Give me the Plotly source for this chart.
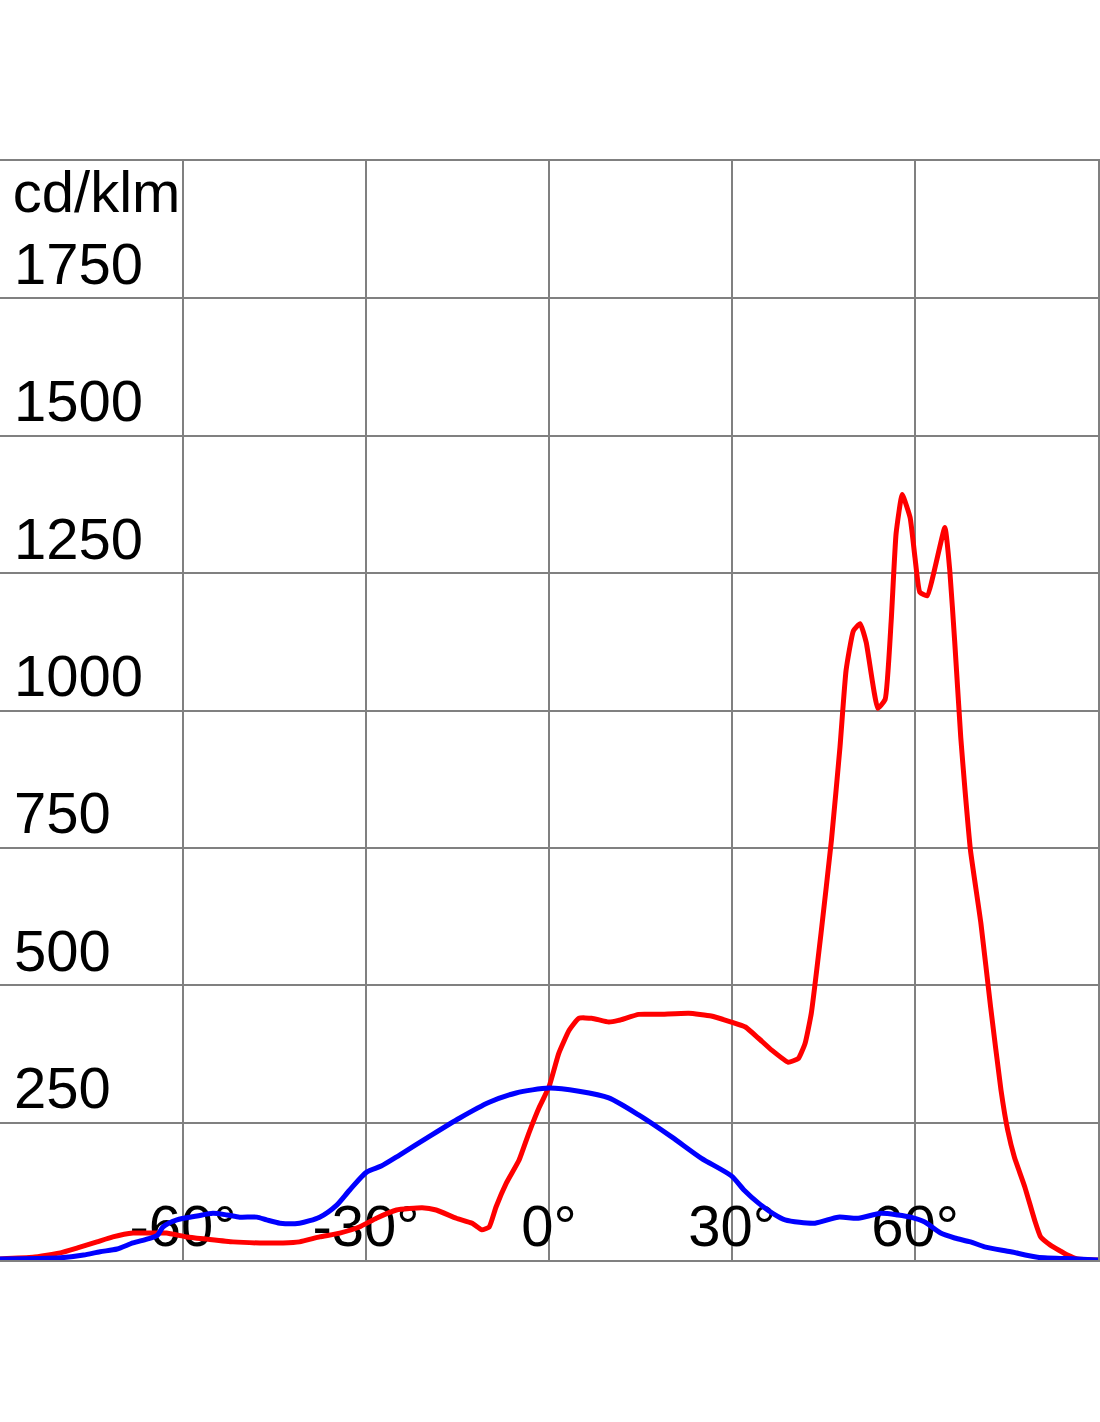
import plotly.graph_objects as go

# C0-C180 plane (red)
red_angle = [-90.0, -84.6, -80.1, -77.3, -74.1, -71.5, -68.2, -65.4, -62.7, -59.4, -56.1, -51.8, -47.4,
             -43.6, -40.9, -37.6, -34.3, -31.1, -28.3, -25.0, -20.8, -18.5, -15.2, -12.6, -11.0, -9.8,
             -8.7, -7.0, -4.9, -3.3, -1.6, 0.0, 1.6, 3.3, 4.9, 7.0, 9.8, 11.4, 14.7, 18.0, 22.9, 26.6,
             29.9, 32.2, 34.3, 36.5, 39.2, 40.9, 42.0, 43.0, 44.6, 46.3, 47.7, 48.7, 49.9, 51.0, 52.0,
             53.9, 55.1, 56.1, 56.9, 57.9, 59.2, 60.0, 60.8, 62.0, 64.9, 65.7, 66.5, 67.5, 68.2, 69.1,
             70.8, 72.4, 74.1, 75.2, 76.3, 78.0, 79.6, 80.6, 82.2, 85.0, 86.6, 90.0]
red_value = [2, 5, 13, 22, 33, 42, 49, 49, 49, 42, 38, 33, 31,
             31, 33, 42, 49, 60, 76, 91, 95, 91, 76, 67, 55, 60,
             96, 140, 182, 231, 278, 315, 376, 418, 440, 440, 433, 436, 447, 447, 449, 444,
             433, 424, 404, 382, 360, 367, 395, 449, 595, 764, 933, 1073, 1145, 1158, 1124,
             1004, 1020, 1164, 1322, 1393, 1351, 1278, 1215, 1209, 1333, 1255, 1127, 951, 855, 745,
             613, 460, 309, 236, 187, 133, 73, 42, 27, 9, 2, 0]

# C90-C270 plane (blue)
blue_angle = [-90.0, -80.1, -76.3, -73.6, -70.8, -68.2, -65.9, -64.2, -63.3, -61.0, -57.7, -55.1, -52.8,
              -50.7, -47.9, -46.3, -44.1, -40.9, -37.6, -34.8, -32.7, -29.9, -27.5, -24.5, -19.6, -14.7,
              -9.8, -5.4, 0.0, 4.9, 9.8, 14.7, 20.1, 25.0, 29.9, 32.0, 34.3, 36.8, 38.7, 43.6, 47.4,
              50.7, 54.4, 57.2, 59.3, 61.6, 64.2, 66.5, 69.1, 71.4, 75.7, 80.1, 86.6, 90.0]
blue_value = [2, 4, 9, 15, 20, 31, 38, 45, 60, 73, 80, 85, 82,
              78, 78, 73, 67, 67, 78, 100, 127, 160, 171, 191, 225, 258,
              287, 304, 313, 307, 295, 264, 224, 185, 153, 127, 104, 84, 73, 67, 78,
              76, 85, 82, 78, 69, 49, 40, 33, 24, 15, 5, 2, 0]

x_tick_vals = [-60, -30, 0, 30, 60]
x_tick_text = ["-60°", "-30°", "0°", "30°", "60°"]
y_tick_vals = [250, 500, 750, 1000, 1250, 1500, 1750]
y_tick_text = ["250", "500", "750", "1000", "1250", "1500", "1750"]
unit_label = "cd/klm"

FONT = "Liberation Sans, Arial, sans-serif"
GRID = "#808080"
TXT = dict(family=FONT, size=58, color="black")

fig = go.Figure()

# tick labels drawn as text traces (beneath the curves)
fig.add_trace(go.Scatter(
    x=x_tick_vals, y=[0] * len(x_tick_vals), text=x_tick_text, mode="text",
    textposition="top center", textfont=TXT,
    hoverinfo="skip", showlegend=False, cliponaxis=False))
fig.add_trace(go.Scatter(
    x=[-87.7] * len(y_tick_vals), y=y_tick_vals, text=y_tick_text, mode="text",
    textposition="top right", textfont=TXT,
    hoverinfo="skip", showlegend=False, cliponaxis=False))
fig.add_trace(go.Scatter(
    x=[-87.9], y=[y_tick_vals[-1] + 131], text=[unit_label], mode="text",
    textposition="top right", textfont=TXT,
    hoverinfo="skip", showlegend=False, cliponaxis=False))

fig.add_trace(go.Scatter(x=red_angle, y=red_value, mode="lines",
                         line=dict(color="#ff0000", width=5, shape="spline", smoothing=0.4),
                         showlegend=False))
fig.add_trace(go.Scatter(x=blue_angle, y=blue_value, mode="lines",
                         line=dict(color="#0000ff", width=5, shape="spline", smoothing=0.7),
                         showlegend=False))

fig.update_xaxes(range=[-90, 90], tickvals=x_tick_vals, showticklabels=False, ticks="",
                 showgrid=True, gridcolor=GRID, gridwidth=2, zeroline=False,
                 showline=True, linecolor=GRID, linewidth=2, mirror=True)
fig.update_yaxes(range=[0, 2000], tickvals=y_tick_vals, showticklabels=False, ticks="",
                 showgrid=True, gridcolor=GRID, gridwidth=2, zeroline=False,
                 showline=True, linecolor=GRID, linewidth=2, mirror=True)

fig.update_layout(width=1100, height=1422, margin=dict(l=0, r=0, t=161, b=162),
                  paper_bgcolor="white", plot_bgcolor="white", showlegend=False)

fig.write_html("out.html", config={"displayModeBar": False},
               post_script="document.body.style.margin='0';")
